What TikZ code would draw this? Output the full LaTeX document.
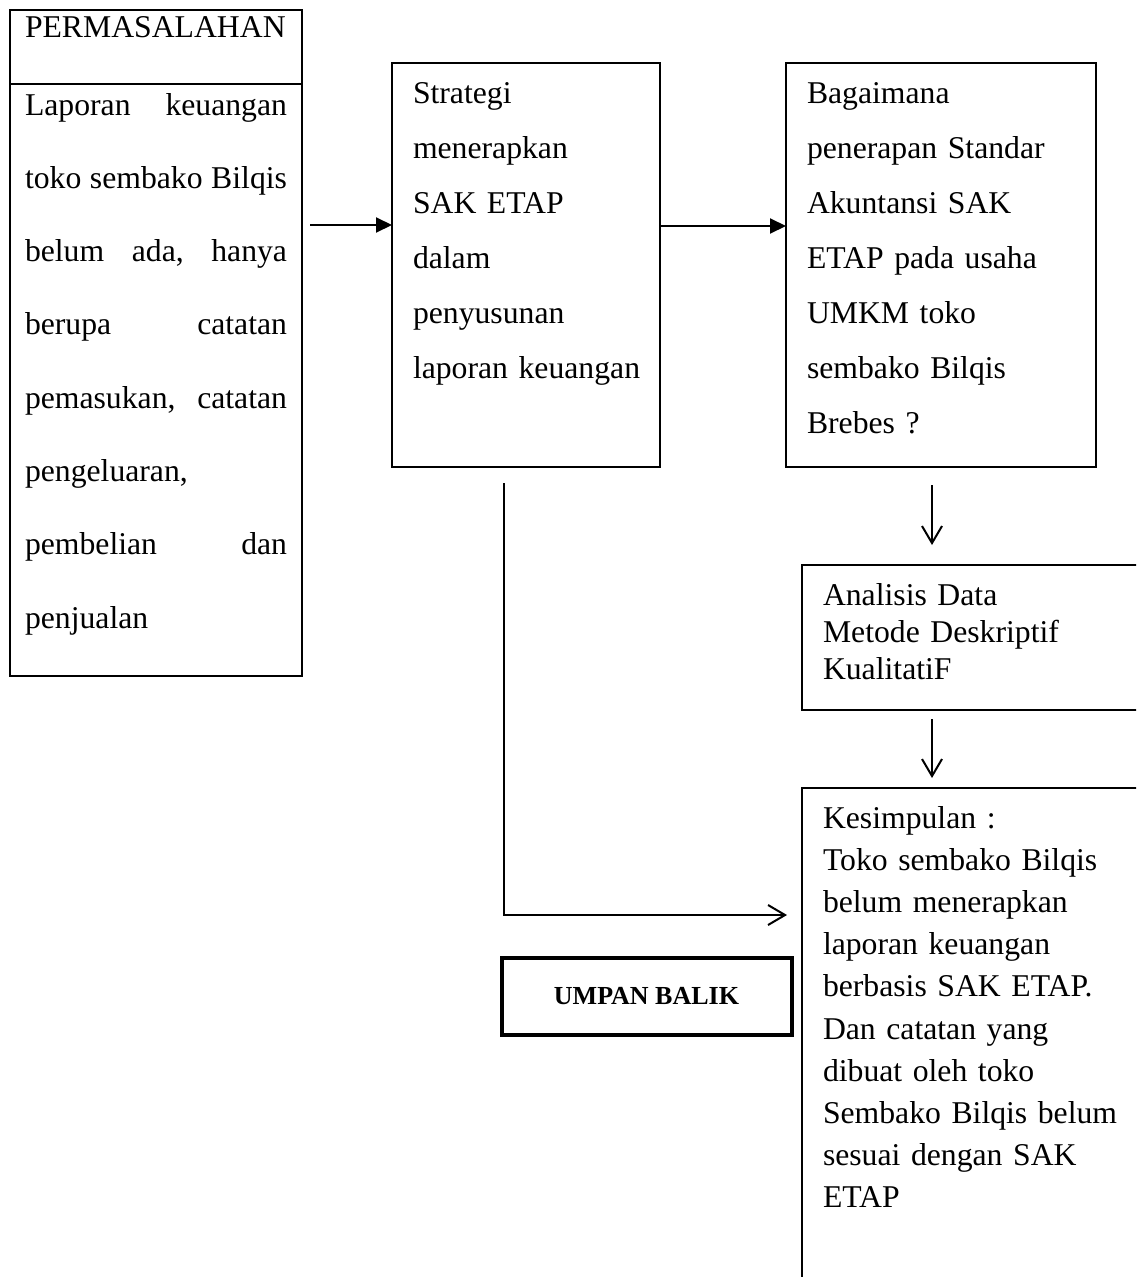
\documentclass[tikz,border=0pt]{standalone}
\usepackage{fontspec}
\setmainfont{Liberation Serif}
\usetikzlibrary{arrows.meta}
\newcommand{\jline}[1]{\leavevmode\hbox to 262pt{#1}}
\begin{document}
\begin{tikzpicture}[x=1pt,y=-1pt,
  box/.style={draw, line width=1.6pt, inner sep=0pt, outer sep=0pt, anchor=north west},
  txt/.style={inner sep=0pt, outer sep=0pt, anchor=base west, align=left},
  tri/.style={line width=2pt, -{Triangle[length=16pt,width=15pt]}},
  barb/.style={line width=2pt, -{Straight Barb[length=17pt,width=20pt]}}]
\useasboundingbox (0,0) rectangle (1136,1277);
\clip (0,0) rectangle (1136,1277);
\fill[white] (0,0) rectangle (1136,1277);
% boxes
\node[box, line width=2.5pt, minimum width=292pt, minimum height=666pt] (b1) at (10,10) {};
\draw[line width=2.5pt] (b1.north west |- 0,84) -- (b1.north east |- 0,84);
\node[box, minimum width=268pt, minimum height=404pt] (b2) at (392,63) {};
\node[box, minimum width=310pt, minimum height=404pt] (b3) at (786,63) {};
\node[box, minimum width=340pt, minimum height=145pt] (b4) at (802,565) {};
\node[box, minimum width=340pt, minimum height=510pt] (b5) at (802,788) {};
\node[draw, line width=4pt, inner sep=0pt, minimum width=290pt, minimum height=77pt,
  font=\fontsize{26}{30}\selectfont\bfseries] (ub) at (646.5,996) {UMPAN BALIK};
% texts
\node[txt, text width=262pt, font=\fontsize{31.7}{38}\selectfont] (t0) at (25,37) {PERMASALAHAN};
\node[txt, text width=262pt, font=\fontsize{31.7}{73.3}\selectfont] (t1) at (25,115) {%
\jline{Laporan\hfill keuangan}\\
\jline{toko\hfill sembako\hfill Bilqis}\\
\jline{belum\hfill ada,\hfill hanya}\\
\jline{berupa\hfill catatan}\\
\jline{pemasukan,\hfill catatan}\\
pengeluaran,\\
\jline{pembelian\hfill dan}\\
penjualan};
\node[txt, text width=240pt, font=\fontsize{31.7}{55}\selectfont] (t2) at (413,103) {%
Strategi\\ menerapkan\\ SAK ETAP\\ dalam\\ penyusunan\\ laporan keuangan};
\node[txt, text width=280pt, font=\fontsize{31.7}{55}\selectfont] (t3) at (807,103) {%
Bagaimana\\ penerapan Standar\\ Akuntansi SAK\\ ETAP pada usaha\\ UMKM toko\\ sembako Bilqis\\ Brebes ?};
\node[txt, text width=300pt, font=\fontsize{31.7}{37}\selectfont] (t4) at (823,605) {%
Analisis Data\\ Metode Deskriptif\\ KualitatiF};
\node[txt, text width=300pt, font=\fontsize{31.7}{42.2}\selectfont] (t5) at (823,828) {%
Kesimpulan :\\ Toko sembako Bilqis\\ belum menerapkan\\ laporan keuangan\\ berbasis SAK ETAP.\\ Dan catatan yang\\ dibuat oleh toko\\ Sembako Bilqis belum\\ sesuai dengan SAK\\ ETAP};
% connectors
\draw[tri, shorten <=8pt] (b1.east |- 0,225) -- (b2.west |- 0,225);
\draw[tri] (b2.east |- 0,226) -- (b3.west |- 0,226);
\draw[barb, shorten <=18pt, shorten >=20pt] (b3.south -| 932,0) -- (b4.north -| 932,0);
\draw[barb, shorten <=9pt, shorten >=10pt] (b4.south -| 932,0) -- (b5.north -| 932,0);
\coordinate (fbtop) at (504,483);
\coordinate (fbcorner) at (504,915);
\draw[barb, shorten >=15pt] (fbtop) -- (fbcorner) -- (fbcorner -| b5.west);
\end{tikzpicture}
\end{document}
